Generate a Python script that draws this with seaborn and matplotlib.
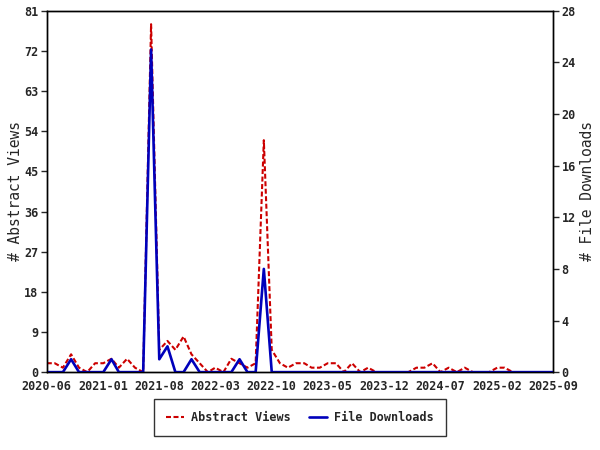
import numpy as np
import pandas as pd

import matplotlib
matplotlib.use("Agg")
import matplotlib.pyplot as plt
import matplotlib.dates as mdates
import seaborn as sns


months = pd.date_range("2020-06-01", "2025-09-01", freq="MS")

abstract_views = [
    2, 2, 1, 4, 1, 0, 2, 2, 3, 1, 3, 1, 0, 78, 5, 7,
    5, 8, 4, 2, 0, 1, 0, 3, 2, 1, 2, 52, 5, 2, 1, 2,
    2, 1, 1, 2, 2, 0, 2, 0, 1, 0, 0, 0, 0, 0, 1, 1,
    2, 0, 1, 0, 1, 0, 0, 0, 1, 1, 0, 0, 0, 0, 0, 0,
]

file_downloads = [
    0, 0, 0, 1, 0, 0, 0, 0, 1, 0, 0, 0, 0, 25, 1, 2,
    0, 0, 1, 0, 0, 0, 0, 0, 1, 0, 0, 8, 0, 0, 0, 0,
    0, 0, 0, 0, 0, 0, 0, 0, 0, 0, 0, 0, 0, 0, 0, 0,
    0, 0, 0, 0, 0, 0, 0, 0, 0, 0, 0, 0, 0, 0, 0, 0,
]

left_ticks = [0, 9, 18, 27, 36, 45, 54, 63, 72, 81]
right_ticks = [0, 4, 8, 12, 16, 20, 24, 28]

RED = "#cc0000"
BLUE = "#0000bb"


def plot():
    sns.set_style("white")
    plt.rcParams["font.family"] = ["DejaVu Sans Mono", "DejaVu Sans"]
    plt.rcParams["font.weight"] = "bold"

    df = pd.DataFrame({
        "month": months,
        "views": abstract_views,
        "downloads": file_downloads,
    })

    fig = plt.figure(figsize=(6, 4.5), dpi=100)
    ax = fig.add_axes([0.078, 0.173, 0.844, 0.803])
    ax2 = ax.twinx()

    sns.lineplot(
        data=df, x="month", y="views", ax=ax,
        color=RED, linewidth=1.5, linestyle=(0, (2.4, 1.2)),
        label="Abstract Views", legend=False,
    )
    sns.lineplot(
        data=df, x="month", y="downloads", ax=ax2,
        color=BLUE, linewidth=1.9,
        label="File Downloads", legend=False,
    )

    ax.set_xlim(months[0], months[-1])
    ax.set_ylim(0, 81)
    ax2.set_ylim(0, 28)
    ax.set_yticks(left_ticks)
    ax2.set_yticks(right_ticks)

    ax.set_xticks(months[::7])
    ax.xaxis.set_major_formatter(mdates.DateFormatter("%Y-%m"))
    ax.set_xticks(months, minor=True)

    ax.tick_params(axis="x", which="major", direction="inout", length=7,
                   width=1, labelsize=8.5, pad=2)
    ax.tick_params(axis="x", which="minor", direction="out", length=3, width=1)
    ax.tick_params(axis="y", direction="out", length=4, width=1,
                   labelsize=8.5, pad=2)
    ax2.tick_params(axis="y", direction="out", length=4, width=1,
                    labelsize=8.5, pad=2)

    ax.set_xlabel("")
    ax.set_ylabel("# Abstract Views", fontsize=10.5, labelpad=1)
    ax2.set_ylabel("# File Downloads", fontsize=10.5, labelpad=3)

    for a in (ax, ax2):
        for s in a.spines.values():
            s.set_color("black")
            s.set_linewidth(1)

    h1, l1 = ax.get_legend_handles_labels()
    h2, l2 = ax2.get_legend_handles_labels()
    leg = fig.legend(
        h1 + h2, l1 + l2,
        loc="center", bbox_to_anchor=(0.5, 0.072),
        ncol=2, frameon=True, fancybox=False, shadow=False,
        fontsize=8.5, handlelength=1.5, handletextpad=0.6,
        columnspacing=1.6, borderpad=1.0,
    )
    leg.get_frame().set_edgecolor("black")
    leg.get_frame().set_linewidth(1)

    fig.savefig("out.png", dpi=100)


if __name__ == "__main__":
    plot()
